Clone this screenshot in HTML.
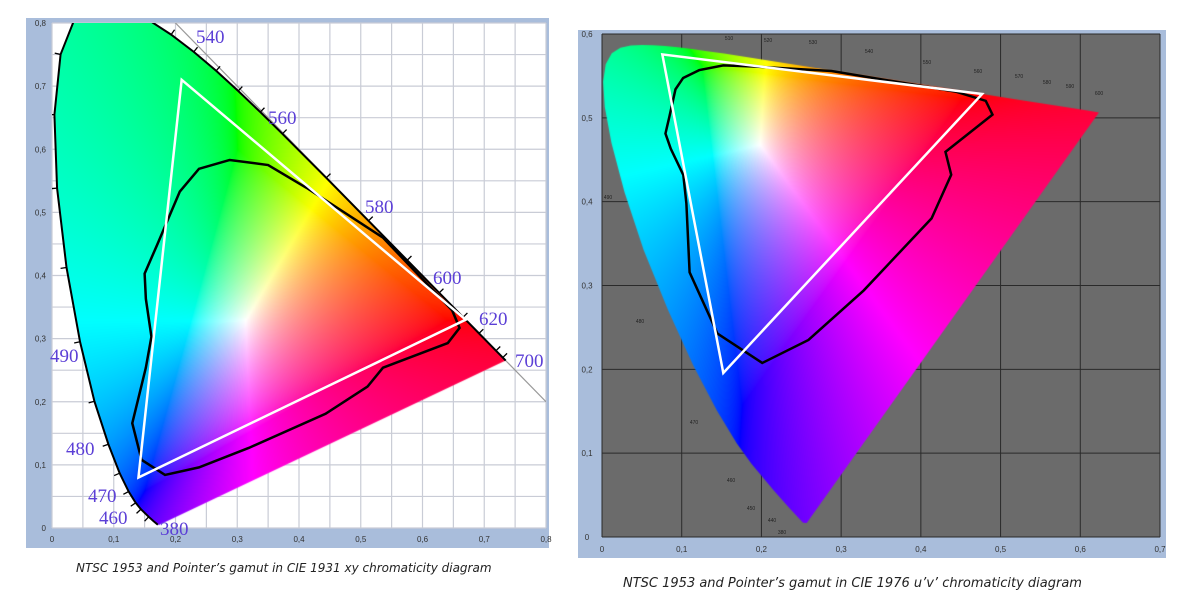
<!DOCTYPE html>
<html><head><meta charset="utf-8">
<style>
html,body{margin:0;padding:0;background:#fff;width:1200px;height:600px;overflow:hidden;font-family:"Liberation Sans",sans-serif}
#root{position:relative;width:1200px;height:600px}
canvas{position:absolute}
svg{position:absolute;left:0;top:0}
.cap{position:absolute;font-family:"DejaVu Sans","Liberation Sans",sans-serif;font-style:italic;font-size:12px;color:#222;white-space:nowrap}
</style></head>
<body><div id="root">
<svg id="bg" width="1200" height="600"></svg>
<canvas id="c1" width="494" height="505" style="left:52px;top:23px"></canvas>
<canvas id="c2" width="558" height="503" style="left:602px;top:34px"></canvas>
<svg id="fg" width="1200" height="600"></svg>
<div class="cap" style="left:76px;top:561px">NTSC 1953 and Pointer’s gamut in CIE 1931 xy chromaticity diagram</div>
<div class="cap" style="left:623px;top:576px;font-size:13px">NTSC 1953 and Pointer’s gamut in CIE 1976 u’v’ chromaticity diagram</div>
</div>
<script>
const locusWl=[380,420,440,450,460,465,470,475,480,485,490,495,500,505,510,515,520,525,530,535,540,545,550,555,560,570,580,590,600,610,620,640,660,700];
const locusX=[.1741,.1714,.1644,.1566,.1440,.1355,.1241,.1096,.0913,.0687,.0454,.0235,.0082,.0039,.0139,.0389,.0743,.1142,.1547,.1929,.2296,.2658,.3016,.3373,.3731,.4441,.5125,.5752,.6270,.6658,.6915,.7190,.7300,.7347];
const locusY=[.0050,.0051,.0109,.0177,.0297,.0399,.0578,.0868,.1327,.2007,.2950,.4127,.5384,.6548,.7502,.8120,.8338,.8262,.8059,.7816,.7543,.7243,.6923,.6589,.6245,.5547,.4866,.4242,.3725,.3340,.3083,.2809,.2700,.2653];
const pointerX=[.288,.238,.207,.170,.150,.152,.161,.152,.130,.145,.183,.238,.319,.443,.511,.536,.641,.660,.648,.536,.412,.350];
const pointerY=[.583,.569,.533,.448,.403,.363,.303,.254,.166,.108,.084,.096,.127,.181,.224,.254,.293,.317,.345,.460,.539,.575];
const ntscX=[.67,.21,.14];
const ntscY=[.33,.71,.08];
const leftTicks=["0","0,1","0,2","0,3","0,4","0,5","0,6","0,7","0,8"];
const rightXTicks=["0","0,1","0,2","0,3","0,4","0,5","0,6","0,7"];
const rightYTicks=["0","0,1","0,2","0,3","0,4","0,5","0,6"];

const NS="http://www.w3.org/2000/svg";
function el(p,t,a){const e=document.createElementNS(NS,t);for(const k in a)e.setAttribute(k,a[k]);p.appendChild(e);return e;}
const bg=document.getElementById('bg'),fg=document.getElementById('fg');
const L={x0:52,x1:546,y0:528,y1:23,xmax:.8,ymax:.8};
const R={x0:602,x1:1160,y0:537,y1:34,xmax:.7,ymax:.6};
const lx=v=>L.x0+v/L.xmax*(L.x1-L.x0), ly=v=>L.y0-v/L.ymax*(L.y0-L.y1);
const rx=v=>R.x0+v/R.xmax*(R.x1-R.x0), ry=v=>R.y0-v/R.ymax*(R.y0-R.y1);
const toU=(x,y)=>{const d=-2*x+12*y+3;return [4*x/d,9*y/d];};

let r=el(bg,'rect',{x:26,y:18,width:523,height:530,fill:'#a9bddb'});
r=el(bg,'rect',{x:L.x0,y:L.y1,width:L.x1-L.x0,height:L.y0-L.y1,fill:'#fff'});
for(let i=0;i<=16;i++){const v=i*.05;
 let g=el(bg,'line',{x1:lx(v),x2:lx(v),y1:L.y1,y2:L.y0,stroke:'#c9ccd6','stroke-width':1.2});
 g=el(bg,'line',{x1:L.x0,x2:L.x1,y1:ly(v),y2:ly(v),stroke:'#c9ccd6','stroke-width':1.2});}
r=el(bg,'rect',{x:578,y:30,width:588,height:528,fill:'#a9bddb'});
r=el(bg,'rect',{x:R.x0,y:R.y1,width:R.x1-R.x0,height:R.y0-R.y1,fill:'#6b6b6b'});
for(let i=0;i<=7;i++){let g=el(bg,'line',{x1:rx(i/10),x2:rx(i/10),y1:R.y1,y2:R.y0,stroke:'#2a2a2a','stroke-width':1});}
for(let i=0;i<=6;i++){let g=el(bg,'line',{x1:R.x0,x2:R.x1,y1:ry(i/10),y2:ry(i/10),stroke:'#2a2a2a','stroke-width':1});}
leftTicks.forEach((t,i)=>{const v=i/10;
 let e=el(bg,'text',{x:46,y:ly(v)+3,'font-size':8,fill:'#333','text-anchor':'end'});e.textContent=t;
 e=el(bg,'text',{x:lx(v),y:542,'font-size':8,fill:'#333','text-anchor':'middle'});e.textContent=t;});
rightXTicks.forEach((t,i)=>{let e=el(bg,'text',{x:rx(i/10),y:552,'font-size':8,fill:'#333','text-anchor':'middle'});e.textContent=t;});
rightYTicks.forEach((t,i)=>{let e=el(bg,'text',{x:587,y:ry(i/10)+3,'font-size':8,fill:'#333','text-anchor':'middle'});e.textContent=t;});

function xyRGB(x,y){if(y<=0.001)y=0.001;const X=x/y,Y=1,Z=(1-x-y)/y;
 let r=3.2406*X-1.5372*Y-0.4986*Z,g=-0.9689*X+1.8758*Y+0.0415*Z,b=0.0557*X-0.2040*Y+1.0570*Z;
 const m=Math.min(r,g,b);if(m<0){r-=m;g-=m;b-=m;}
 const M=Math.max(r,g,b)||1;r/=M;g/=M;b/=M;
 const gm=v=>Math.round(255*Math.pow(v,1/1.6));return [gm(r),gm(g),gm(b)];}
function paint(cid,ox,oy,toXY,poly){
 const c=document.getElementById(cid),ctx=c.getContext('2d'),W=c.width,H=c.height;
 const off=document.createElement('canvas');off.width=W;off.height=H;const oc=off.getContext('2d');
 const img=oc.createImageData(W,H);
 for(let j=0;j<H;j++)for(let i=0;i<W;i++){const [x,y]=toXY(i+ox,j+oy);const [R_,G,B]=xyRGB(x,y);const k=(j*W+i)*4;img.data[k]=R_;img.data[k+1]=G;img.data[k+2]=B;img.data[k+3]=255;}
 oc.putImageData(img,0,0);
 ctx.save();ctx.beginPath();poly.forEach((p,i)=>i?ctx.lineTo(p[0]-ox,p[1]-oy):ctx.moveTo(p[0]-ox,p[1]-oy));ctx.closePath();ctx.clip();ctx.drawImage(off,0,0);ctx.restore();}
const polyL=locusX.map((x,i)=>[lx(x),ly(locusY[i])]);
paint('c1',L.x0,L.y1,(px,py)=>[(px-L.x0)/(L.x1-L.x0)*L.xmax,(L.y0-py)/(L.y0-L.y1)*L.ymax],polyL);
const polyR=locusX.map((x,i)=>{const [u,v]=toU(x,locusY[i]);return [rx(u),ry(v)];});
paint('c2',R.x0,R.y1,(px,py)=>{const u=(px-R.x0)/(R.x1-R.x0)*R.xmax,v=(R.y0-py)/(R.y0-R.y1)*R.ymax;const d=6*u-16*v+12;return [9*u/d,4*v/d];},polyR);

const clip=el(fg,'clipPath',{id:'clipL'});el(clip,'rect',{x:L.x0,y:L.y1,width:L.x1-L.x0,height:L.y0-L.y1});
const gL=el(fg,'g',{'clip-path':'url(#clipL)'});
let e=el(gL,'line',{x1:lx(.18),y1:ly(.82),x2:lx(.8),y2:ly(.2),stroke:'#999','stroke-width':1.2});
e=el(gL,'polyline',{points:polyL.slice(1).map(p=>p.join(',')).join(' '),fill:'none',stroke:'#000','stroke-width':2});
for(let i=3;i<locusX.length-1;i++){const p=polyL[i],a=polyL[i-1],b=polyL[i+1];let dx=b[0]-a[0],dy=b[1]-a[1];const n=Math.hypot(dx,dy);let nx=dy/n,ny=-dx/n;
 e=el(gL,'line',{x1:p[0],y1:p[1],x2:p[0]+nx*6,y2:p[1]+ny*6,stroke:'#000','stroke-width':1.3});}
e=el(gL,'polygon',{points:pointerX.map((x,i)=>lx(x)+','+ly(pointerY[i])).join(' '),fill:'none',stroke:'#000','stroke-width':2.5});
e=el(gL,'polygon',{points:ntscX.map((x,i)=>lx(x)+','+ly(ntscY[i])).join(' '),fill:'none',stroke:'#fff','stroke-width':2.5});
const wlL=[["540",196,43],["560",268,124],["580",365,213],["600",433,284],["620",479,325],["700",515,367],["490",50,362],["480",66,455],["470",88,502],["460",99,524],["380",160,535]];
wlL.forEach(w=>{e=el(fg,'text',{x:w[1],y:w[2],'font-size':19,fill:'#5b3fd6','font-family':'Liberation Serif, serif'});e.textContent=w[0];});
const gR=el(fg,'g',{});
e=el(gR,'polygon',{points:pointerX.map((x,i)=>{const [u,v]=toU(x,pointerY[i]);return rx(u)+','+ry(v);}).join(' '),fill:'none',stroke:'#000','stroke-width':2.5});
e=el(gR,'polygon',{points:ntscX.map((x,i)=>{const [u,v]=toU(x,ntscY[i]);return rx(u)+','+ry(v);}).join(' '),fill:'none',stroke:'#fff','stroke-width':2.5});
const wlR=[["510",729,40],["520",768,42],["530",813,44],["540",869,53],["550",927,64],["560",978,73],["570",1019,78],["580",1047,84],["590",1070,88],["600",1099,95],["490",608,199],["480",640,323],["470",694,424],["460",731,482],["450",751,510],["440",772,522],["380",782,534]];
wlR.forEach(w=>{e=el(gR,'text',{x:w[1],y:w[2],'font-size':5,fill:'#222','text-anchor':'middle'});e.textContent=w[0];});
</script>
</body></html>
